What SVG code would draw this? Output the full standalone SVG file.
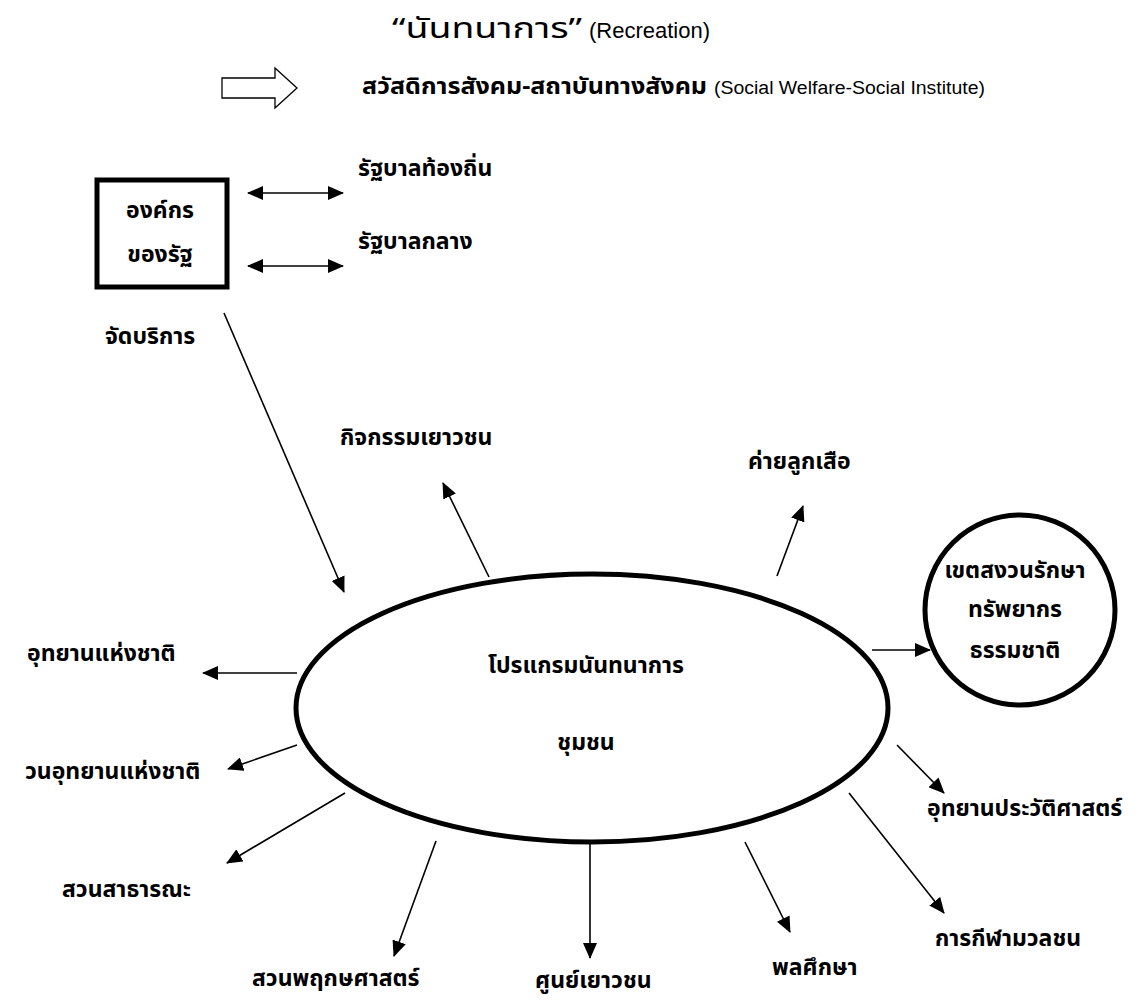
<svg xmlns="http://www.w3.org/2000/svg" width="1138" height="1004" viewBox="0 0 1138 1004">
<style>
text{font-family:"Noto Sans Thai","Noto Sans","Liberation Sans",sans-serif;fill:#000}
.t{font-size:23px;font-weight:bold}
.e{font-family:"Liberation Sans",Arial,sans-serif}
.c{stroke:#000;stroke-width:1.6;fill:none}
.s{stroke:#000;stroke-width:5;fill:#fff}
</style>
<defs>
<marker id="ah" viewBox="0 0 16 14" refX="15" refY="7" markerWidth="16" markerHeight="14" markerUnits="userSpaceOnUse" orient="auto-start-reverse">
<path d="M0,0 L16,7 L0,14 Z" fill="#000"/>
</marker>
</defs>
<rect width="1138" height="1004" fill="#fff"/>
<g id="title">
<text x="392" y="38" font-size="28" textLength="190" lengthAdjust="spacingAndGlyphs">“นันทนาการ”</text>
<text x="589" y="38" font-size="22" class="e">(Recreation)</text>
</g>
<g id="legend">
<path d="M222,78 H275 V68 L297,88 L275,108 V98 H222 Z" fill="#fff" stroke="#000" stroke-width="1.3"/>
<text x="362" y="94" class="t" textLength="345" lengthAdjust="spacingAndGlyphs">สวัสดิการสังคม-สถาบันทางสังคม</text>
<text x="714" y="94" font-size="18" class="e" textLength="271" lengthAdjust="spacingAndGlyphs">(Social Welfare-Social Institute)</text>
</g>
<g id="state-org">
<rect x="97" y="180" width="130" height="107" class="s"/>
<text x="160" y="218" class="t" text-anchor="middle">องค์กร</text>
<text x="160" y="262" class="t" text-anchor="middle">ของรัฐ</text>
</g>
<g id="local-gov"><text x="358" y="176" class="t">รัฐบาลท้องถิ่น</text></g>
<g id="central-gov"><text x="358" y="249" class="t">รัฐบาลกลาง</text></g>
<g id="service"><text x="105" y="344" class="t">จัดบริการ</text></g>
<g id="program">
<ellipse cx="592" cy="708" rx="296" ry="134" class="s"/>
<text x="586" y="673" class="t" text-anchor="middle">โปรแกรมนันทนาการ</text>
<text x="586" y="750" class="t" text-anchor="middle">ชุมชน</text>
</g>
<g id="reserve">
<circle cx="1020" cy="610" r="95" class="s"/>
<text x="1015" y="578" class="t" text-anchor="middle">เขตสงวนรักษา</text>
<text x="1015" y="617" class="t" text-anchor="middle">ทรัพยากร</text>
<text x="1015" y="658" class="t" text-anchor="middle">ธรรมชาติ</text>
</g>
<g id="youth-activity"><text x="340" y="445" class="t">กิจกรรมเยาวชน</text></g>
<g id="scout-camp"><text x="748" y="469" class="t">ค่ายลูกเสือ</text></g>
<g id="national-park"><text x="27" y="661" class="t">อุทยานแห่งชาติ</text></g>
<g id="forest-park"><text x="25" y="779" class="t">วนอุทยานแห่งชาติ</text></g>
<g id="public-park"><text x="62" y="897" class="t">สวนสาธารณะ</text></g>
<g id="botanical"><text x="252" y="986" class="t">สวนพฤกษศาสตร์</text></g>
<g id="youth-center"><text x="535" y="988" class="t">ศูนย์เยาวชน</text></g>
<g id="pe"><text x="772" y="975" class="t">พลศึกษา</text></g>
<g id="historical-park"><text x="927" y="816" class="t">อุทยานประวัติศาสตร์</text></g>
<g id="mass-sport"><text x="935" y="946" class="t">การกีฬามวลชน</text></g>
<g id="connectors" class="c">
<line x1="248" y1="193" x2="343" y2="193" marker-start="url(#ah)" marker-end="url(#ah)"/>
<line x1="248" y1="266" x2="343" y2="266" marker-start="url(#ah)" marker-end="url(#ah)"/>
<line x1="224" y1="313" x2="344" y2="592" marker-end="url(#ah)"/>
<line x1="489" y1="577" x2="443" y2="483" marker-end="url(#ah)"/>
<line x1="777" y1="576" x2="803" y2="506" marker-end="url(#ah)"/>
<line x1="872" y1="650" x2="930" y2="650" marker-end="url(#ah)"/>
<line x1="897" y1="745" x2="944" y2="793" marker-end="url(#ah)"/>
<line x1="849" y1="793" x2="944" y2="913" marker-end="url(#ah)"/>
<line x1="745" y1="842" x2="790" y2="932" marker-end="url(#ah)"/>
<line x1="590" y1="843" x2="590" y2="958" marker-end="url(#ah)"/>
<line x1="436" y1="841" x2="394" y2="956" marker-end="url(#ah)"/>
<line x1="345" y1="793" x2="227" y2="863" marker-end="url(#ah)"/>
<line x1="297" y1="745" x2="228" y2="769" marker-end="url(#ah)"/>
<line x1="297" y1="673" x2="203" y2="673" marker-end="url(#ah)"/>
</g>
</svg>
